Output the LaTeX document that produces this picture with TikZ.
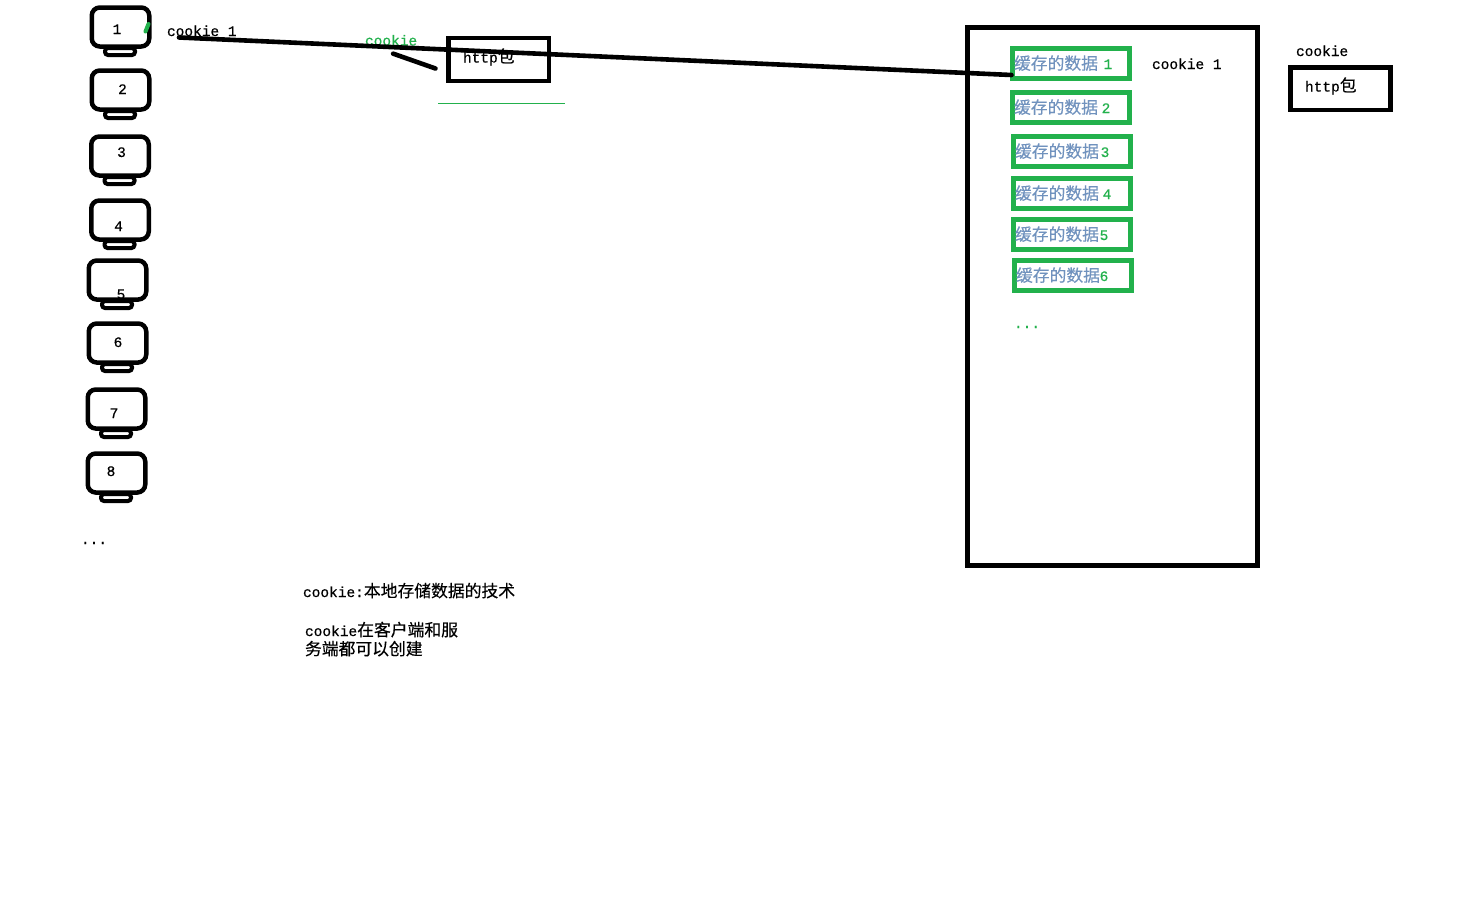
\documentclass[tikz,border=0pt]{standalone}
\usepackage{fontspec}
\usetikzlibrary{calc}
\setmainfont{Liberation Mono}[FakeBold=0.5]
\newfontfamily\cjk{Noto Sans CJK SC}[FakeBold=0.35]
\definecolor{grn}{HTML}{22B14C}
\definecolor{blu}{HTML}{7092BE}
\newcommand{\zh}[1]{{\cjk\fontsize{16.8}{19}\selectfont #1}}
\tikzset{
  txt/.style={anchor=base west,inner sep=0pt,outer sep=0pt,font=\fontsize{14.5}{19}\selectfont,text=black},
  gtxt/.style={txt,text=grn},
  num/.style={anchor=base,inner sep=0pt,outer sep=0pt,font=\fontsize{14.5}{19}\selectfont},
  monbody/.style={draw=black,line width=4.5pt,rounded corners=8pt,minimum width=57.5pt,minimum height=39pt,inner sep=0pt,outer sep=0pt},
  monbase/.style={draw=black,line width=4pt,rounded corners=3pt,minimum width=30pt,minimum height=7pt,inner sep=0pt,outer sep=0pt},
  bbox/.style={draw=black,line width=4.7pt,inner sep=0pt,outer sep=0pt},
  cache/.style={draw=grn,line width=4.8pt,minimum width=117pt,minimum height=30pt,inner sep=0pt,outer sep=0pt},
  wire/.style={draw=black,line width=4.6pt,line cap=round}
}
\begin{document}
\begin{tikzpicture}[x=1pt,y=-1pt]
\path[fill=white,use as bounding box] (0,0) rectangle (1478,908);
% monitors
\foreach \n/\x/\y/\tx/\ty in {1/120.5/27/117/34,2/120.5/90/122.5/94,3/120/156/121.5/157,4/120/220/118.5/231,5/117.5/280/121/299,6/117.5/343/118/347,7/116.5/409/114/418,8/116.5/473/111/476}{
  \node[monbody] (m\n) at (\x,\y) {};
  \node[monbase] (b\n) at ($(m\n.center)+(-0.5,24.5)$) {};
  \node[num] (t\n) at (\tx,\ty) {\n};
}
\draw[draw=grn,line width=4pt,line cap=round] (148.5,24) -- (145.5,31.5);
\node[txt] (dotsL) at (81,544) {...};
% top-left texts
\node[txt] (ck1) at (167,36) {cookie 1};
\node[gtxt] (ckg) at (365,45.5) {cookie};
\node[bbox,minimum width=100.5pt,minimum height=43pt] (http1) at (498.7,59.5) {};
\node[txt] (http1t) at (463,62.5) {http\zh{包}};
\draw[draw=grn,line width=0.8pt] (438,103.5) -- (565,103.5);
% server
\node[bbox,line width=5pt,minimum width=290pt,minimum height=538pt] (server) at (1112.5,296.5) {};
\foreach \n/\x/\y/\nx in {1/1071/63.5/1108,2/1071/107.5/1106,3/1072/151.5/1105,4/1072/193.5/1107,5/1072/234.5/1104,6/1073/275.5/1104}{
  \node[cache] (c\n) at (\x,\y) {};
  \node[txt,text=blu] (ct\n) at ($(c\n.west)+(1.5,6)$) {\zh{缓存的数据}};
  \node[num,text=grn] (cn\n) at ($(\nx,\y)+(0,5.5)$) {\n};
}
\node[gtxt] (dotsR) at (1014,328) {...};
\node[txt] (ck2) at (1152,69) {cookie 1};
\node[txt] (ck3) at (1296,56) {cookie};
\node[bbox,minimum width=100pt,minimum height=42.5pt] (http2) at (1340.5,88.7) {};
\node[txt] (http2t) at (1305,91.5) {http\zh{包}};
% connectors
\coordinate (wireL) at (179,37.5);
\draw[wire] (wireL) -- ([yshift=-11.5pt,xshift=-1pt]c1.west);
\draw[wire] ([xshift=2pt,yshift=-8pt]ckg.south) -- ([xshift=-13pt,yshift=-9pt]http1.west);
% notes
\node[txt] (n1) at (303,597) {cookie:\zh{本地存储数据的技术}};
\node[txt,anchor=base west,align=left] (n2) at (305,655) {cookie\zh{在客户端和服}\\\zh{务端都可以创建}};
\end{tikzpicture}
\end{document}
